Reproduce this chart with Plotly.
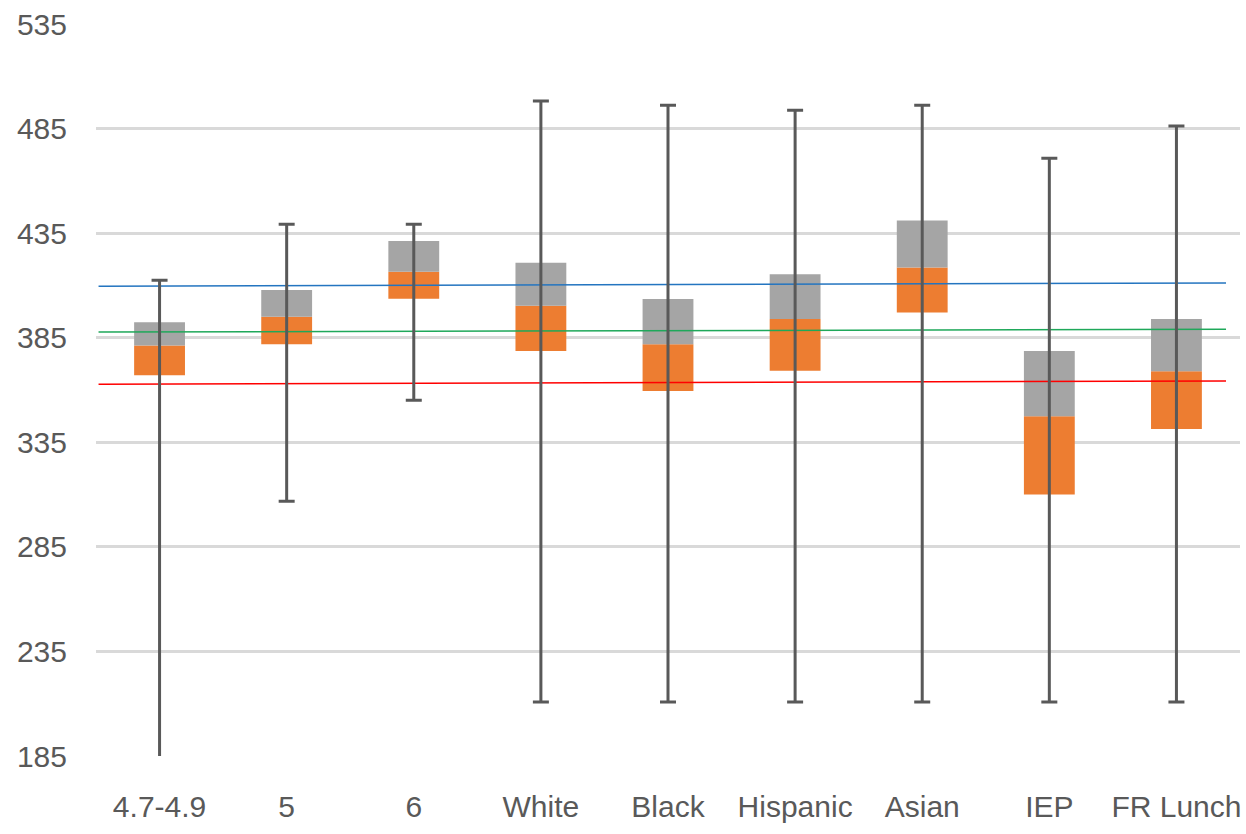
import plotly.graph_objects as go

categories = ["4.7-4.9", "5", "6", "White", "Black", "Hispanic", "Asian", "IEP", "FR Lunch"]
whisker_max = [412.5, 439.2, 439.2, 498.2, 496.1, 493.8, 496.1, 470.8, 486.2]
box_q3 = [392.4, 407.8, 431.3, 420.8, 403.5, 415.3, 441.1, 378.7, 393.9]
box_median = [381.3, 395.0, 416.5, 400.3, 381.9, 393.9, 418.6, 347.5, 369.0]
box_q1 = [367.0, 381.9, 403.6, 378.7, 359.5, 369.2, 397.1, 310.0, 341.3]
whisker_min = [175.0, 306.8, 355.1, 210.8, 210.8, 210.8, 210.8, 210.8, 210.8]

# reference lines: value at left end, value at right end
ref_blue = [409.6, 411.2]
ref_green = [387.7, 389.0]
ref_red = [362.8, 364.3]

y_ticks = [185, 235, 285, 335, 385, 435, 485, 535]

xs = list(range(len(categories)))
line_x = [-0.48, len(categories) - 0.61]

FONT = "Liberation Sans, Arial, sans-serif"
TXT = "#595959"

fig = go.Figure()

fig.add_trace(go.Bar(
    x=xs, y=[m - q for m, q in zip(box_median, box_q1)], base=box_q1,
    width=0.4, marker=dict(color="#ED7D31", line=dict(width=0)),
    hoverinfo="skip", showlegend=False))
fig.add_trace(go.Bar(
    x=xs, y=[q - m for q, m in zip(box_q3, box_median)], base=box_median,
    width=0.4, marker=dict(color="#A5A5A5", line=dict(width=0)),
    hoverinfo="skip", showlegend=False))

for vals, col in [(ref_blue, "#2475C0"), (ref_green, "#1FA85A"), (ref_red, "#FF0000")]:
    fig.add_trace(go.Scatter(x=line_x, y=vals, mode="lines",
                             line=dict(color=col, width=1.5),
                             hoverinfo="skip", showlegend=False))

fig.add_trace(go.Scatter(
    x=xs, y=box_median, mode="markers",
    marker=dict(size=1, color="rgba(0,0,0,0)"),
    error_y=dict(type="data", symmetric=False,
                 array=[a - m for a, m in zip(whisker_max, box_median)],
                 arrayminus=[m - b for m, b in zip(box_median, whisker_min)],
                 color="#595959", thickness=3, width=8),
    hoverinfo="skip", showlegend=False))

fig.update_layout(
    width=1246, height=834,
    margin=dict(l=96, r=6, t=24, b=78),
    paper_bgcolor="white", plot_bgcolor="white",
    barmode="overlay",
    font=dict(family=FONT, size=30, color=TXT),
    xaxis=dict(range=[-0.5, len(categories) - 0.5], tickmode="array",
               tickvals=xs, ticktext=categories, showgrid=False,
               zeroline=False, showline=False, ticks="",
               ticklabelstandoff=30),
    yaxis=dict(range=[185, 535], tickmode="array", tickvals=y_ticks,
               showgrid=True, gridcolor="#D9D9D9", gridwidth=3,
               zeroline=False, showline=False, ticks="",
               ticklabelstandoff=28),
)

fig.write_html("out.html", config={"displayModeBar": False},
               post_script="document.body.style.margin='0';")
